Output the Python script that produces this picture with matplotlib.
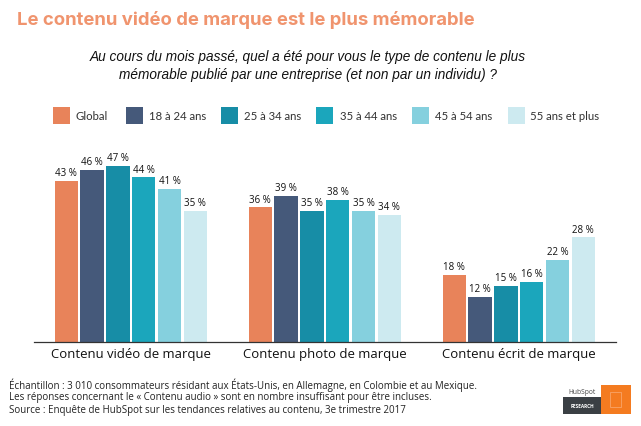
import matplotlib
matplotlib.use('Agg')
import matplotlib.pyplot as plt
from matplotlib.patches import Rectangle
import numpy as np

### Data ###
categories = ['Contenu vidéo de marque', 'Contenu photo de marque', 'Contenu écrit de marque']
series_names = ['Global', '18 à 24 ans', '25 à 34 ans', '35 à 44 ans', '45 à 54 ans', '55 ans et plus']
global_vals = [43, 36, 18]
age_18_24 = [46, 39, 12]
age_25_34 = [47, 35, 15]
age_35_44 = [44, 38, 16]
age_45_54 = [41, 35, 22]
age_55_plus = [35, 34, 28]
colors = ['#E8835A', '#45597A', '#178DA6', '#1BA6BC', '#85D0DE', '#CDEAF0']

title = 'Le contenu vidéo de marque est le plus mémorable'
question = ('Au cours du mois passé, quel a été pour vous le type de contenu le plus\n'
            'mémorable publié par une entreprise (et non par un individu) ?')
footer = ['Échantillon : 3 010 consommateurs résidant aux États-Unis, en Allemagne, en Colombie et au Mexique.',
          'Les réponses concernant le « Contenu audio » sont en nombre insuffisant pour être incluses.',
          'Source : Enquête de HubSpot sur les tendances relatives au contenu, 3e trimestre 2017']

W, H = 641, 427
fig = plt.figure(figsize=(W / 100, H / 100), dpi=100)

# figure coords from reference pixels
def px(x, y):
    return x / W, 1 - y / H

### Bars ###
ax = fig.add_axes([33.8 / W, 1 - 343 / H, 582 / W, 187 / H])
all_series = [global_vals, age_18_24, age_25_34, age_35_44, age_45_54, age_55_plus]
x = np.arange(len(categories))
pitch = 0.133
for i, vals in enumerate(all_series):
    offset = (i - 2.5) * pitch
    bars = ax.bar(x + offset, vals, width=0.121, color=colors[i])
    ax.bar_label(bars, labels=[f'{v} %' for v in vals], padding=2, fontsize=7.0,
                 family='Open Sans', color='#111111')

ax.set_xlim(-0.5, 2.5)
ax.set_ylim(0, 50)
ax.set_yticks([])
ax.set_xticks(x)
ax.set_xticklabels(categories, fontsize=9.45, family='Open Sans', color='#111111')
ax.tick_params(axis='x', length=0, pad=3.5)
for side in ['top', 'left', 'right']:
    ax.spines[side].set_visible(False)
ax.spines['bottom'].set_color('#333333')
ax.spines['bottom'].set_linewidth(0.9)

### Titles ###
fig.text(*px(17, 20), title, fontsize=13.3, fontweight='bold', family='Inter',
         color='#F0946E', va='center', ha='left')
fig.text(*px(308, 66), question, fontsize=9.85, style='italic', family='Liberation Sans',
         color='#111111', va='center', ha='center', linespacing=1.45)

### Legend (uneven spacing, so placed by hand) ###
swatch_x = [53, 126, 221, 316, 412, 508]
label_x = [76, 149, 244, 340, 435, 530]
for name, c, sx, lx in zip(series_names, colors, swatch_x, label_x):
    fig.add_artist(Rectangle(px(sx, 125), 17 / W, 17 / H, transform=fig.transFigure,
                             facecolor=c, edgecolor='none'))
    fig.text(*px(lx, 117), name, fontsize=8.2, family='Lato', color='#333333',
             va='center', ha='left')

### Footer ###
for line, y in zip(footer, [385, 398, 411]):
    fig.text(*px(9, y), line, fontsize=7.05, family='Open Sans', color='#222222',
             va='center', ha='left')

### Logo ###
fig.add_artist(Rectangle(px(563, 415), 38 / W, 17 / H, transform=fig.transFigure,
                         facecolor='#3A3F44', edgecolor='none'))
fig.add_artist(Rectangle(px(601, 415), 30 / W, 29 / H, transform=fig.transFigure,
                         facecolor='#F47B20', edgecolor='none'))
fig.add_artist(Rectangle(px(610, 408), 11 / W, 15 / H, transform=fig.transFigure,
                         facecolor='none', edgecolor='#F8A468', linewidth=0.6))
fig.text(*px(582, 393), 'HubSpot', fontsize=4.8, family='Open Sans', color='#444444',
         va='center', ha='center')
fig.text(*px(582, 407), 'RESEARCH', fontsize=3.4, fontweight='bold', family='Open Sans',
         color='white', va='center', ha='center')

plt.savefig('out.png', dpi=100)
